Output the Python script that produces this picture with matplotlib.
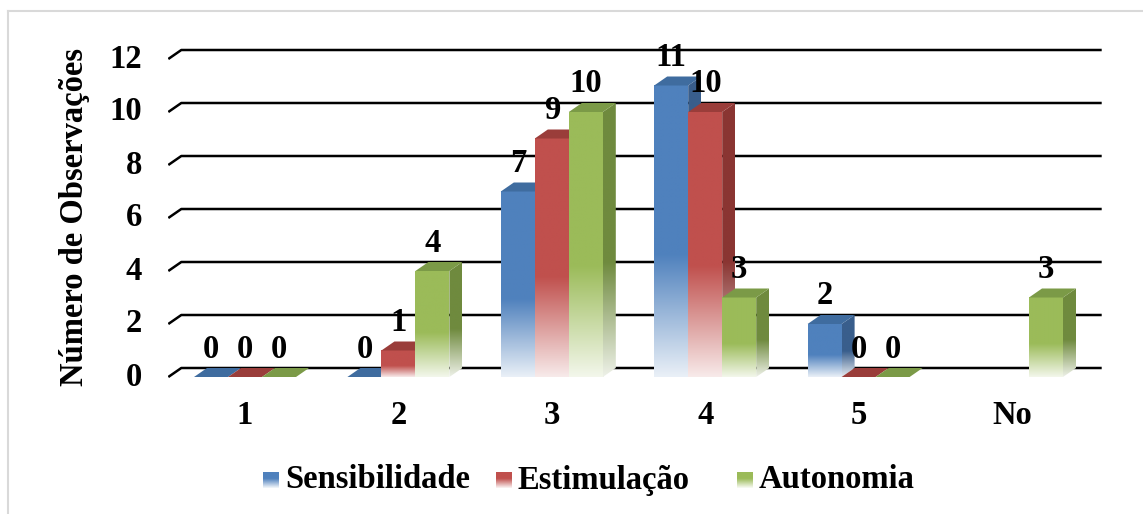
import numpy as np
import matplotlib
matplotlib.use('Agg')
import matplotlib.pyplot as plt
from matplotlib.patches import Polygon
from matplotlib.colors import to_rgb

categories = ['1', '2', '3', '4', '5', 'No']
series_names = ['Sensibilidade', 'Estimulação', 'Autonomia']
sensibilidade = [0, 0, 7, 11, 2, None]
estimulacao = [0, 1, 9, 10, 0, None]
autonomia = [0, 4, 10, 3, 0, 3]
y_ticks = [0, 2, 4, 6, 8, 10, 12]

front_colors = ['#4F81BD', '#C0504D', '#9BBB59']
side_colors = ['#395E8C', '#8A3532', '#6F8A3E']
top_colors = ['#3F6C9F', '#9A3D3A', '#7B9A47']

plt.rcParams['font.family'] = ['Liberation Serif', 'DejaVu Serif']
plt.rcParams['font.weight'] = 'bold'
FS = 23.5

W, H = 1143, 514
fig = plt.figure(figsize=(W / 100, H / 100), dpi=100)

# axes placed so that category spacing ~153 px and 1 unit ~26.5 px
x0lim, x1lim = -0.5, 5.6
y0lim, y1lim = -0.5, 12.6
px_x = 153.4
px_y = 26.5
left_px = 245 + x0lim * px_x
bottom_px = 377 - y0lim * px_y
ax = fig.add_axes([left_px / W, 1 - bottom_px / H,
                   (x1lim - x0lim) * px_x / W, (y1lim - y0lim) * px_y / H])
ax.set_axis_off()

dx = 13 / px_x
dy = 9 / px_y
bw = 34 / px_x


def fade_rgba(color, n=200, frac=0.42, low=0.12):
    c = np.array(to_rgb(color))
    t = np.linspace(0, 1, n)  # bottom -> top
    w = np.clip(low + (1 - low) * t / frac, 0, 1)
    rgb = c[None, :] * w[:, None] + (1 - w[:, None])
    return rgb[:, None, :]


# gridlines on back wall with diagonal on the left floor edge
for v in y_ticks:
    ax.plot([-0.5, -0.5 + dx, 5.5 + dx], [v, v + dy, v + dy],
            color='black', lw=1.8, solid_capstyle='butt', zorder=1)
    ax.annotate(str(v), (-0.5, v), xytext=(-26, 0), textcoords='offset pixels',
                ha='right', va='center', fontsize=FS, fontweight='bold')

series = [sensibilidade, estimulacao, autonomia]
for i, cat in enumerate(categories):
    for j, vals in enumerate(series):
        h = vals[i]
        if h is None:
            continue
        xl = i - 1.5 * bw + j * bw
        xr = xl + bw
        z = 3 + i * 3 + j
        if h > 0:
            img = ax.imshow(fade_rgba(front_colors[j]), extent=[xl, xr, 0, h],
                            origin='lower', aspect='auto', zorder=z,
                            interpolation='bilinear')
            side = Polygon([(xr, 0), (xr + dx, dy), (xr + dx, h + dy), (xr, h)],
                           closed=True, facecolor='none', edgecolor='none')
            ax.add_patch(side)
            simg = ax.imshow(fade_rgba(side_colors[j]), extent=[xr, xr + dx, 0, h + dy],
                             origin='lower', aspect='auto', zorder=z,
                             interpolation='bilinear')
            simg.set_clip_path(side)
        top = Polygon([(xl, h), (xr, h), (xr + dx, h + dy), (xl + dx, h + dy)],
                      closed=True, facecolor=top_colors[j], edgecolor='none', zorder=z)
        ax.add_patch(top)
        ax.annotate(str(h), ((xl + xr) / 2, h), xytext=(0, 28), textcoords='offset pixels',
                    ha='center', va='center', fontsize=FS, fontweight='bold', zorder=30)
    ax.annotate(cat, (i, 0), xytext=(0, -39), textcoords='offset pixels',
                ha='center', va='center', fontsize=FS, fontweight='bold')

ax.set_xlim(x0lim, x1lim)
ax.set_ylim(y0lim, y1lim)

fig.text(75 / W, 1 - 217 / H, 'Número de Observações', rotation=90,
         ha='center', va='center', fontsize=FS, fontweight='bold')

# legend
leg_sq = [263, 496, 737]
for j, name in enumerate(series_names):
    lax = fig.add_axes([leg_sq[j] / W, 1 - 488 / H, 16 / W, 16 / H])
    lax.imshow(fade_rgba(front_colors[j], frac=0.6, low=0.05), origin='lower',
               aspect='auto', interpolation='bilinear')
    lax.set_axis_off()
    fig.text((leg_sq[j] + 22) / W, 1 - 480 / H, name, ha='left', va='center',
             fontsize=FS, fontweight='bold')

# light frame on left and top
fig.add_artist(plt.Line2D([8 / W, 8 / W], [0, 1 - 11 / H], color='#D9D9D9', lw=1.5))
fig.add_artist(plt.Line2D([8 / W, 1], [1 - 11 / H, 1 - 11 / H], color='#D9D9D9', lw=1.5))

fig.savefig('out.png', dpi=100, facecolor='white')
